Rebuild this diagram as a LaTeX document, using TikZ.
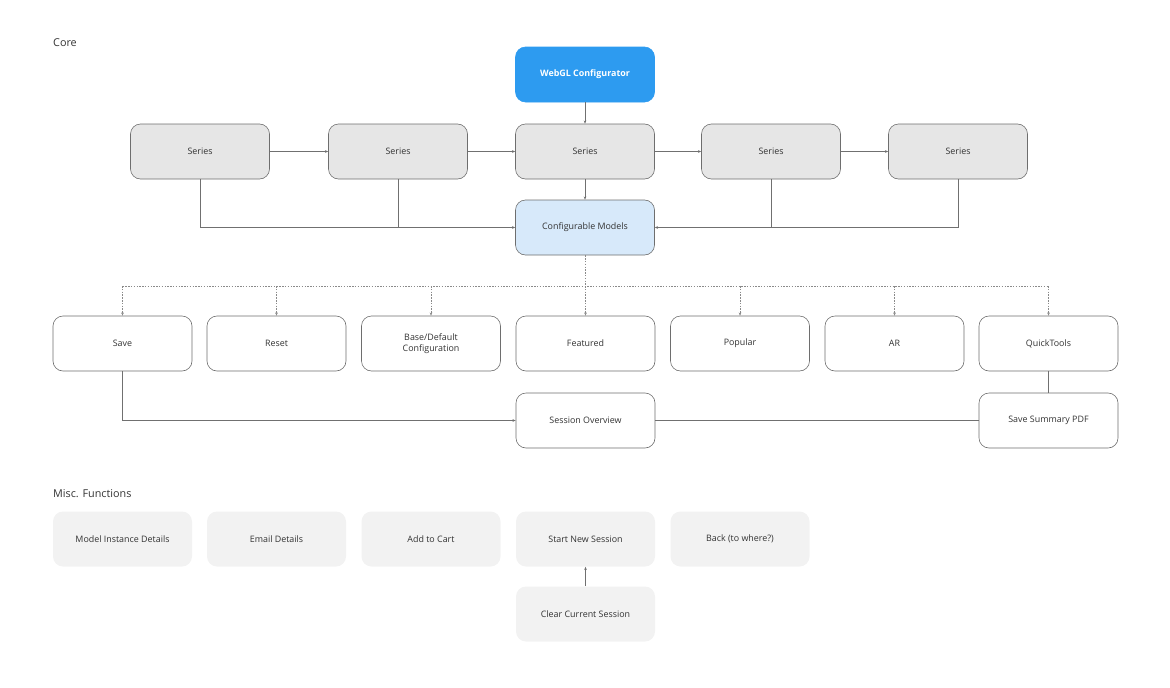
\documentclass[tikz,border=0pt]{standalone}
\usepackage{fontspec}
\setmainfont{Open Sans}
\usetikzlibrary{arrows.meta}
\definecolor{boxline}{HTML}{6E6E6E}
\definecolor{linegray}{HTML}{707070}
\definecolor{dashgray}{HTML}{8A8A8A}
\definecolor{seriesfill}{HTML}{E6E6E6}
\definecolor{miscfill}{HTML}{F2F2F2}
\definecolor{webblue}{HTML}{2D9BF0}
\definecolor{cmblue}{HTML}{D7E9FA}
\definecolor{txt}{HTML}{333333}
\begin{document}
\begin{tikzpicture}[x=1pt,y=-1pt,
  box/.style={draw=boxline, line width=0.6pt, rounded corners=10pt, minimum width=139pt, minimum height=55pt, inner sep=0pt, align=center, text=txt, font=\fontsize{8.9}{11.5}\selectfont},
  seriesbox/.style={box, fill=seriesfill},
  whitebox/.style={box, fill=white},
  miscbox/.style={box, draw=none, fill=miscfill},
  webbox/.style={box, draw=webblue, fill=webblue, text=white, font=\fontsize{8.9}{11.5}\selectfont\bfseries},
  cmbox/.style={box, fill=cmblue},
  lbl/.style={anchor=west, inner sep=0pt, text=txt, font=\fontsize{10.8}{12}\selectfont},
  conn/.style={draw=linegray, line width=0.6pt, -{Stealth[length=3.2pt,width=2.6pt]}},
  plain/.style={draw=linegray, line width=0.6pt},
  dconn/.style={draw=dashgray, line width=0.45pt, dash pattern=on 1.5pt off 1.3pt, -{Stealth[length=3.2pt,width=2.6pt]}},
  dplain/.style={draw=dashgray, line width=0.45pt, dash pattern=on 1.5pt off 1.3pt}]
\useasboundingbox (0,0) rectangle (1170,688);

\node[lbl] (core) at (53,42.5) {Core};
\node[lbl] (misc) at (53,493.5) {Misc. Functions};

\node[webbox] (web) at (585,74.5) {WebGL Configurator};

\node[seriesbox] (s1) at (200,151.5) {Series};
\node[seriesbox] (s2) at (398,151.5) {Series};
\node[seriesbox] (s3) at (585,151.5) {Series};
\node[seriesbox] (s4) at (771,151.5) {Series};
\node[seriesbox] (s5) at (958,151.5) {Series};

\node[cmbox] (cm) at (585,227.5) {Configurable Models};

\node[whitebox] (save) at (122.5,343.5) {Save};
\node[whitebox] (reset) at (276.5,343.5) {Reset};
\node[whitebox] (base) at (431,343.5) {Base/Default\\Configuration};
\node[whitebox] (feat) at (585.5,343.5) {Featured};
\node[whitebox] (pop) at (740,343.5) {Popular};
\node[whitebox] (ar) at (894.5,343.5) {AR};
\node[whitebox] (qt) at (1048.5,343.5) {QuickTools};

\node[whitebox] (so) at (585.5,420.5) {Session Overview};
\node[whitebox] (pdf) at (1048.5,420.5) {Save Summary PDF};

\node[miscbox] (mid) at (122.5,539) {Model Instance Details};
\node[miscbox] (email) at (276.5,539) {Email Details};
\node[miscbox] (cart) at (431,539) {Add to Cart};
\node[miscbox] (start) at (585.5,539) {Start New Session};
\node[miscbox] (back) at (740,539) {Back (to where?)};
\node[miscbox] (clear) at (585.5,614) {Clear Current Session};

% top connectors
\draw[conn] (web) -- (s3);
\draw[conn] (s1) -- (s2);
\draw[conn] (s2) -- (s3);
\draw[conn] (s3) -- (s4);
\draw[conn] (s4) -- (s5);
\draw[conn] (s3) -- (cm);
\draw[conn] (s1.south) |- (cm.west);
\draw[plain] (s2.south) -- (s2.south |- cm.west);
\draw[conn] (s5.south) |- (cm.east);
\draw[plain] (s4.south) -- (s4.south |- cm.east);

% dashed tree
\coordinate (dj) at (585,286);
\draw[dplain] (cm.south) -- (dj);
\draw[dplain] (save.north |- dj) -- (qt.north |- dj);
\foreach \n in {save,reset,base,feat,pop,ar,qt}{
  \draw[dconn] (\n.north |- dj) -- (\n.north);
}

% session
\draw[conn] (save.south) |- (so.west);
\draw[plain] (pdf.west) -- (so.east);
\draw[plain] (qt.south) -- (pdf.north);

% misc
\draw[conn] (clear.north) -- (start.south);
\end{tikzpicture}
\end{document}
